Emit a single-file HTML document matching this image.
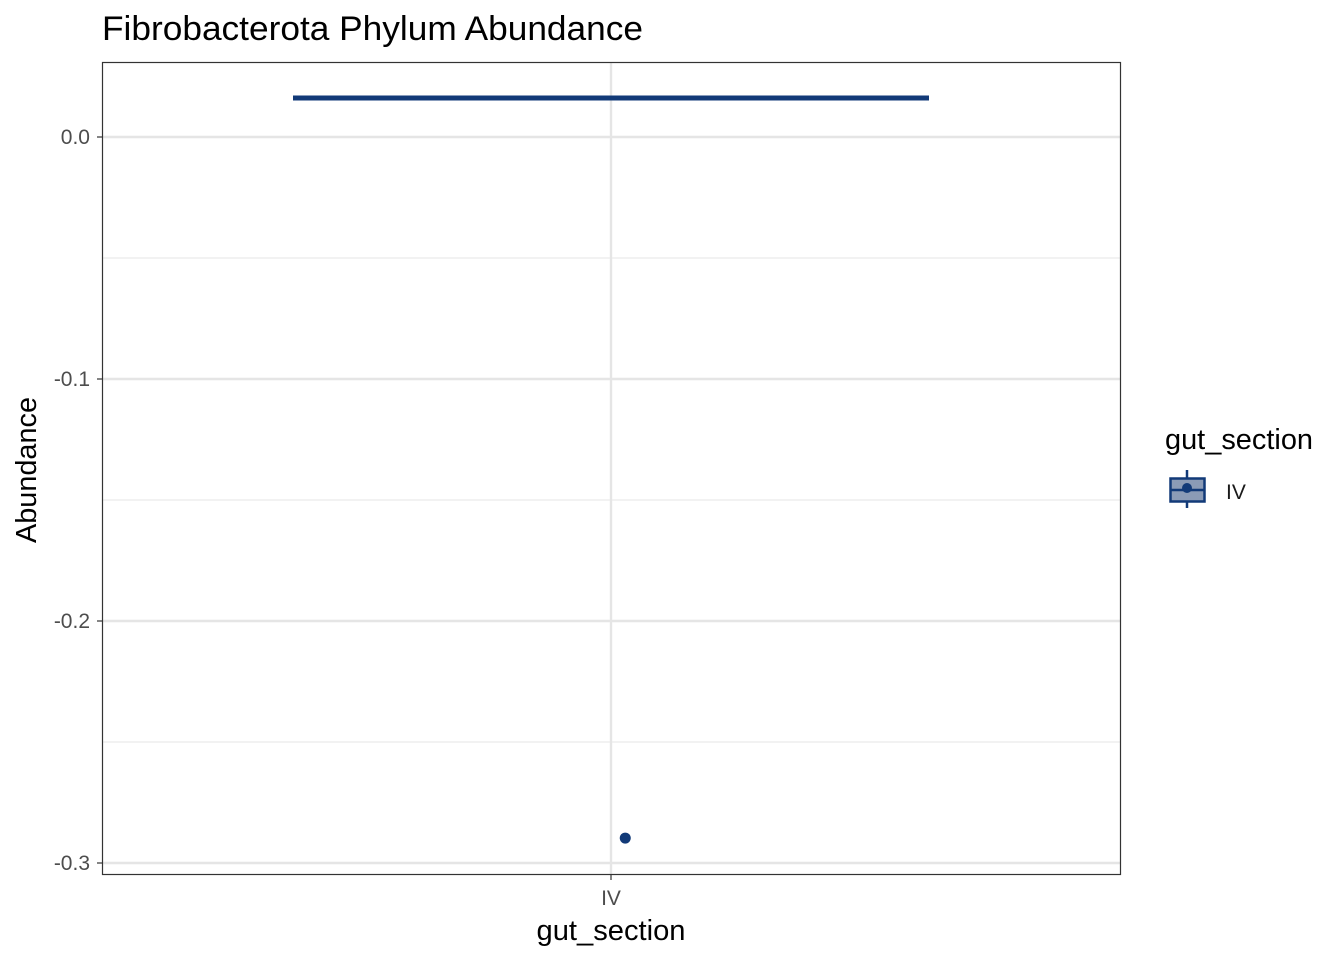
<!DOCTYPE html>
<html><head><meta charset="utf-8"><style>
body{margin:0;background:#fff}
svg text{font-family:"Liberation Sans",Arial,sans-serif}
</style></head><body>
<svg id="chart" width="1344" height="960" viewBox="0 0 1344 960">
<rect width="1344" height="960" fill="#fff"/>
<text x="102" y="40" font-size="34" textLength="541" lengthAdjust="spacingAndGlyphs" fill="#000">Fibrobacterota Phylum Abundance</text>
<g id="grid"></g>
<g id="marks"></g>
<rect x="102.5" y="62.5" width="1018" height="812" fill="none" stroke="#333" stroke-width="1.2"/>
<g id="axes"></g>
<text x="611" y="940" font-size="29" text-anchor="middle" textLength="149" lengthAdjust="spacingAndGlyphs">gut_section</text>
<text transform="translate(36,470) rotate(-90)" font-size="29" text-anchor="middle" textLength="146" lengthAdjust="spacingAndGlyphs">Abundance</text>
<g>
<text x="1165" y="449" font-size="29" textLength="148" lengthAdjust="spacingAndGlyphs">gut_section</text>
<g>
<line x1="1187" y1="470" x2="1187" y2="508" stroke="#123a78" stroke-width="2.5"/>
<rect x="1170.5" y="478.5" width="34" height="23" fill="#8b9bb6" stroke="#123a78" stroke-width="2.5"/>
<line x1="1170" y1="490" x2="1205" y2="490" stroke="#123a78" stroke-width="2.5"/>
<circle cx="1187" cy="488" r="5" fill="#123a78"/>
<text x="1226" y="499" font-size="21" fill="#1a1a1a">IV</text>
</g>
</g>
</svg>
<script>
const categories=["IV"];
const medianVals=[0.0161];
const outlierVals=[-0.2897];
const outlierJitter=[0.02];
const yTicks=[0.0,-0.1,-0.2,-0.3];
const yTickLabels=["0.0","-0.1","-0.2","-0.3"];
const yMinor=[-0.05,-0.15,-0.25];
const NS="http://www.w3.org/2000/svg";
const y=v=>137+(0-v)*2420;
const xc=i=>611+(i-(categories.length-1)/2)*1018/categories.length;
const bw=636/categories.length;
function mk(t,a,p){const e=document.createElementNS(NS,t);for(const k in a)e.setAttribute(k,a[k]);p.appendChild(e);return e;}
const grid=document.getElementById('grid'),marks=document.getElementById('marks'),axes=document.getElementById('axes');
yMinor.forEach(v=>{const l=mk('line',{x1:102,x2:1120,y1:y(v),y2:y(v),stroke:'#ebebeb','stroke-width':1.2},grid);

});
yTicks.forEach((v,i)=>{const l=mk('line',{x1:102,x2:1120,y1:y(v),y2:y(v),stroke:'#e5e5e5','stroke-width':2.4},grid);


const t=mk('line',{x1:97,x2:102,y1:y(v),y2:y(v),stroke:'#333','stroke-width':1.2},axes);


const tx=mk('text',{x:90,y:y(v)+7,'font-size':21,'text-anchor':'end',fill:'#4d4d4d'},axes);tx.textContent=yTickLabels[i];

});
categories.forEach((c,i)=>{
const g=mk('line',{x1:xc(i),x2:xc(i),y1:62,y2:875,stroke:'#e5e5e5','stroke-width':2.4},grid);


const t=mk('line',{x1:xc(i),x2:xc(i),y1:875,y2:880,stroke:'#333','stroke-width':1.2},axes);


const tx=mk('text',{x:xc(i),y:905,'font-size':21,'text-anchor':'middle',fill:'#4d4d4d'},axes);tx.textContent=c;


const m=mk('line',{x1:xc(i)-bw/2,x2:xc(i)+bw/2,y1:y(medianVals[i]),y2:y(medianVals[i]),stroke:'#123a78','stroke-width':5},marks);


const p=mk('circle',{cx:xc(i)+outlierJitter[i]*(1018/categories.length)*0.7,cy:y(outlierVals[i]),r:5.5,fill:'#123a78'},marks);


});
</script>
</body></html>
